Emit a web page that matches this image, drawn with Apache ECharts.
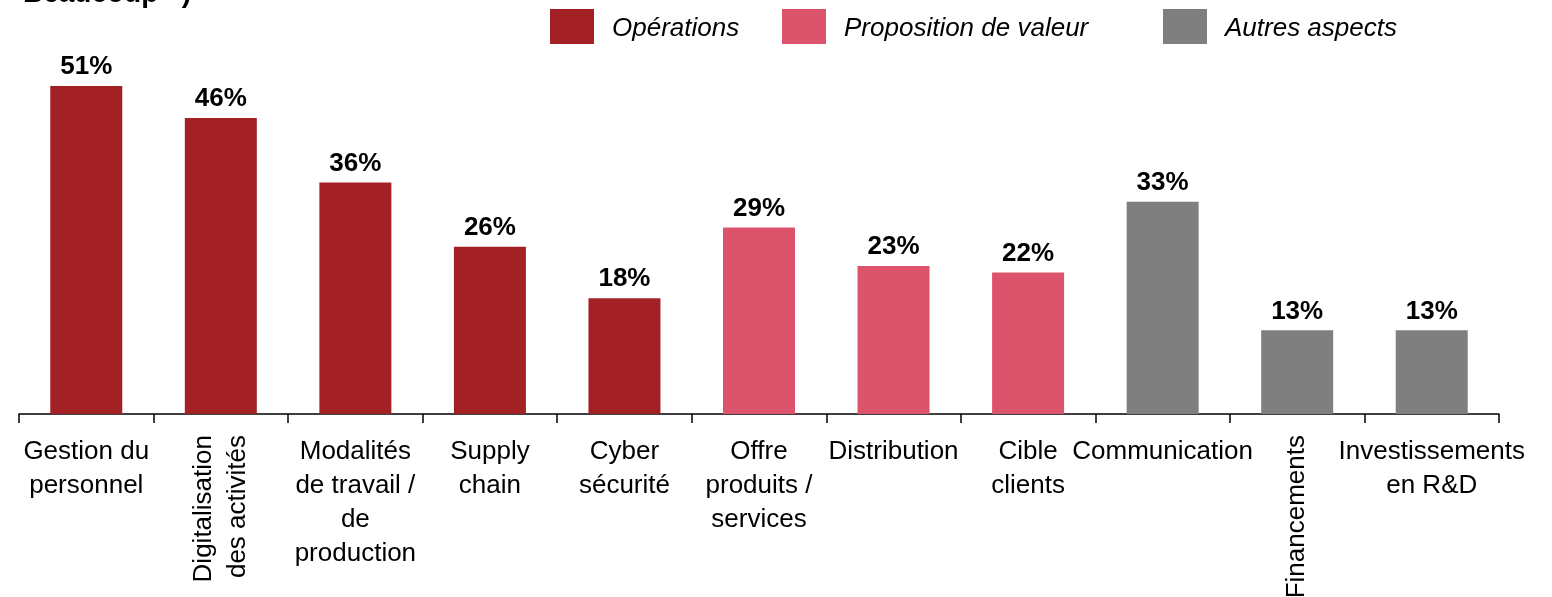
<!DOCTYPE html>
<html>
<head>
<meta charset="utf-8">
<script src="https://cdn.jsdelivr.net/npm/echarts@6/dist/echarts.min.js"></script>
<style>
  html, body { margin: 0; padding: 0; background: #fff; }
  #main { width: 1552px; height: 597px; }
</style>
</head>
<body>
<div id="main"></div>
<script>
// categories de l'axe x
var categories = [
  'Gestion du\npersonnel',
  'Digitalisation\ndes activités',
  'Modalités\nde travail /\nde\nproduction',
  'Supply\nchain',
  'Cyber\nsécurité',
  'Offre\nproduits /\nservices',
  'Distribution',
  'Cible\nclients',
  'Communication',
  'Financements',
  'Investissements\nen R&D'
];
// libellés écrits verticalement
var rotatedLabels = ['Digitalisation\ndes activités', 'Financements'];

// valeurs (%) par groupe, '-' = pas de barre
var operations  = [51, 46, 36, 26, 18, '-', '-', '-', '-', '-', '-'];
var proposition = ['-', '-', '-', '-', '-', 29, 23, 22, '-', '-', '-'];
var autres      = ['-', '-', '-', '-', '-', '-', '-', '-', 33, 13, 13];

var seriesNames = ['Opérations', 'Proposition de valeur', 'Autres aspects'];
var colors = ['#A32024', '#DC546B', '#7F7F7F'];

var font = 'Liberation Sans, Arial, sans-serif';

var chart = echarts.init(document.getElementById('main'));

function barSeries(name, data, color) {
  return {
    name: name,
    type: 'bar',
    stack: 'all',
    data: data,
    barWidth: 72,
    itemStyle: { color: color },
    label: {
      show: true,
      position: 'top',
      distance: 6,
      formatter: '{c}%',
      color: '#000',
      fontWeight: 'bold',
      fontSize: 26,
      fontFamily: font
    }
  };
}

function legendFor(name, left) {
  return {
    data: [name],
    left: left,
    top: 9,
    padding: 0,
    itemWidth: 44,
    itemHeight: 35,
    itemGap: 0,
    icon: 'rect',
    formatter: '{t|{name}}',
    textStyle: {
      rich: {
        t: {
          fontSize: 26,
          fontStyle: 'italic',
          color: '#000',
          fontFamily: font,
          padding: [5, 0, 0, 13]
        }
      }
    }
  };
}

var option = {
  animation: false,
  backgroundColor: '#fff',
  color: colors,
  legend: [
    legendFor(seriesNames[0], 550),
    legendFor(seriesNames[1], 782),
    legendFor(seriesNames[2], 1163)
  ],
  graphic: [{
    type: 'text',
    right: 1552 - 191,
    top: -20,
    style: {
      text: '« Beaucoup »)',
      font: 'bold 28px ' + font,
      fill: '#000'
    }
  }],
  grid: {
    left: 19,
    right: 53,
    top: 28,
    bottom: 183,
    containLabel: false,
    outerBoundsMode: 'none'
  },
  xAxis: [{
    type: 'category',
    data: categories,
    axisLine: { lineStyle: { color: '#000', width: 1.5 } },
    axisTick: { show: true, length: 9, lineStyle: { color: '#000', width: 1.5 } },
    axisLabel: {
      interval: 0,
      margin: 21,
      fontSize: 26,
      lineHeight: 34,
      color: '#000',
      fontFamily: font,
      formatter: function (v) {
        return rotatedLabels.indexOf(v) >= 0 ? '' : v;
      }
    }
  }, {
    type: 'category',
    data: categories,
    position: 'bottom',
    axisLine: { show: false },
    axisTick: { show: false },
    axisLabel: {
      interval: 0,
      rotate: 90,
      margin: 21,
      fontSize: 26,
      lineHeight: 34,
      color: '#000',
      fontFamily: font,
      formatter: function (v) {
        return rotatedLabels.indexOf(v) >= 0 ? v : '';
      }
    }
  }],
  yAxis: {
    type: 'value',
    min: 0,
    max: 60,
    show: false,
    splitLine: { show: false }
  },
  series: [
    barSeries(seriesNames[0], operations, colors[0]),
    barSeries(seriesNames[1], proposition, colors[1]),
    barSeries(seriesNames[2], autres, colors[2])
  ]
};

chart.setOption(option);
</script>
</body>
</html>
